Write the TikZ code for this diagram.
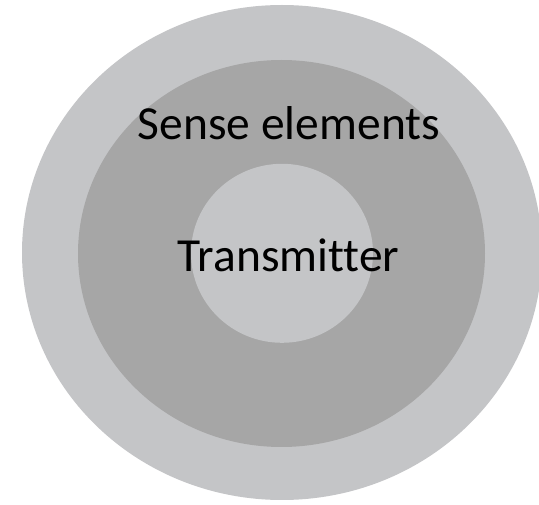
\documentclass[tikz,border=0pt]{standalone}
\usepackage{fontspec}
\setmainfont[Ligatures=NoCommon]{Carlito}
\definecolor{lightring}{RGB}{196,197,199}
\definecolor{darkring}{RGB}{166,166,166}
\tikzset{
  lbl/.style={anchor=base, inner sep=0pt, text=black, font=\fontsize{47.5}{57}\selectfont}
}
\begin{document}
\begin{tikzpicture}[x=1pt,y=-1pt]
\useasboundingbox (0,0) rectangle (539,505);
\fill[lightring] (282,252.5) ellipse [x radius=260, y radius=247.5];
\fill[darkring] (281.5,253.5) ellipse [x radius=203.5, y radius=193.5];
\fill[lightring] (282,253.3) ellipse [x radius=91, y radius=89.5];
\node[lbl] (sense) at (289,139.3) {Sense elements};
\node[lbl] (trans) at (288.5,271.7) {Transmitter};
\end{tikzpicture}
\end{document}
